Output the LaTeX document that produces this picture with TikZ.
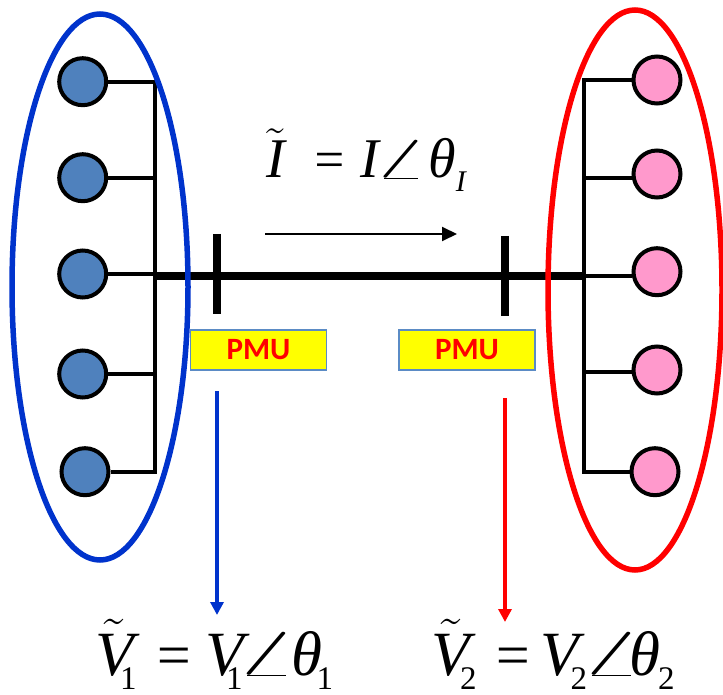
\RequirePackage{fix-cm}
\documentclass[tikz,border=0pt]{standalone}
\usepackage{amsmath}
\usepackage{fontspec}
\setmainfont{Liberation Serif}
\newfontfamily\pmufont{Carlito}
\usepackage{xcolor}
\usetikzlibrary{shapes.geometric,arrows.meta,positioning,calc}
\definecolor{busblue}{HTML}{0033CC}
\definecolor{pmuedge}{HTML}{5B8BC5}
\definecolor{pmufill}{HTML}{FFFF00}
\definecolor{genblue}{HTML}{4F81BD}
\definecolor{loadpink}{HTML}{FF99CC}
\newcommand{\tildevar}[1]{$\tilde{\text{\itshape #1}}$}
\newcommand{\lowidx}[2][33]{\raisebox{-14pt}{\fontsize{#1}{#1}\selectfont #2}}
\newcommand{\eqsign}[1]{{\fontsize{#1}{#1}\selectfont =}}
\newcommand{\bigangle}[2]{\resizebox{#1pt}{#2pt}{\boldmath$\angle$}}

\begin{document}
\begin{tikzpicture}[
    x=1pt, y=-1pt,
    gen/.style={circle, draw=black, line width=4pt, fill=genblue, minimum size=47pt, inner sep=0pt},
    load/.style={circle, draw=black, line width=4pt, fill=loadpink, minimum size=47pt, inner sep=0pt},
    pmu/.style={rectangle, draw=pmuedge, fill=pmufill, line width=1.5pt, minimum width=136pt, minimum height=40pt, inner sep=0pt, text=red, font=\pmufont\fontsize{31}{32}\selectfont\bfseries},
    branch/.style={draw=black, line width=4pt},
    mainline/.style={draw=black, line width=8pt},
    tick/.style={draw=black, line width=8pt},
    area/.style={ellipse, line width=5.5pt, inner sep=0pt},
    flow/.style={-{Triangle[length=13pt,width=13pt]}, line width=3.5pt},
    eqn/.style={anchor=base west, inner sep=0pt, font=\fontsize{#1}{#1}\selectfont\itshape}
]
    \useasboundingbox (0,0) rectangle (723,695);

    \node [gen] (l1) at (82.7,81.7) {};
    \node [gen] (l2) at (82.7,177.7) {};
    \node [gen] (l3) at (82.7,274) {};
    \node [gen] (l4) at (82.7,374) {};
    \node [gen] (l5) at (85,471.7) {};
    \node [load] (r1) at (657,80) {};
    \node [load] (r2) at (657,174) {};
    \node [load] (r3) at (657,271.7) {};
    \node [load] (r4) at (657,370) {};
    \node [load] (r5) at (655,471.7) {};

    \coordinate (lbus) at (155,276);
    \coordinate (rbus) at (584,276);
    \foreach \i in {1,...,5} {
        \draw [branch] (l\i.east) -- (l\i -| lbus);
    }
    \foreach \i/\y in {1/80,2/177.7,3/275.7,4/371.7,5/471.7} {
        \coordinate (rj\i) at (584,\y);
        \draw [branch] (rj\i) -- (r\i.west |- rj\i);
    }
    \draw [branch, line cap=rect] (l1 -| lbus) -- (l5 -| lbus);
    \draw [branch, line cap=rect] (rj1) -- (rj5);
    \draw [mainline] (lbus) -- (rbus);

    \node [pmu] (p1) at (258.5,350) {PMU};
    \node [pmu] (p2) at (467,350) {PMU};

    \coordinate (t1a) at (217,234);
    \coordinate (t1b) at (217,314);
    \coordinate (t2a) at (505,236);
    \coordinate (t2b) at (505,316);
    \draw [tick] (t1a) -- (t1b);
    \draw [tick] (t2a) -- (t2b);

    \node [area, draw=busblue, minimum width=176pt, minimum height=546pt] (zone1) at (100,287) {};
    \node [area, draw=red, minimum width=174pt, minimum height=560pt] (zone2) at (635,290) {};

    \coordinate (c1) at (265,234);
    \coordinate (c2) at (457,234);
    \draw [-{Triangle[length=15pt,width=14pt]}, draw=black, line width=2pt] (c1) -- (c2);

    \coordinate (v1a) at (217,391);
    \coordinate (v1b) at (217,615);
    \coordinate (v2a) at (505,398);
    \coordinate (v2b) at (505,622);
    \draw [flow, draw=busblue, fill=busblue] (v1a) -- (v1b);
    \draw [flow, draw=red, fill=red] (v2a) -- (v2b);

    \node [eqn=56] (cur) at (266,178) {\tildevar{I}\kern27pt\eqsign{53}\kern13pt I\kern-4.9pt\bigangle{53}{37}\kern0.9pt θ\lowidx[30]{I}};
    \node [eqn=63] (v1) at (95,675) {\tildevar{V}\kern-13.5pt\lowidx{\upshape 1}\kern17pt\eqsign{60}\kern11pt V\kern-17.5pt\lowidx{\upshape 1}\kern-6.2pt\bigangle{60}{42}\kern-4.8pt θ\kern-6pt\lowidx{\upshape 1}};
    \node [eqn=63] (v2) at (431,675) {\tildevar{V}\kern-9.5pt\lowidx{\upshape 2}\kern15.5pt\eqsign{60}\kern8pt V\kern-8.5pt\lowidx{\upshape 2}\kern-5.7pt\bigangle{60}{42}\kern-11.8pt θ\kern-2.5pt\lowidx{\upshape 2}};
\end{tikzpicture}
\end{document}
